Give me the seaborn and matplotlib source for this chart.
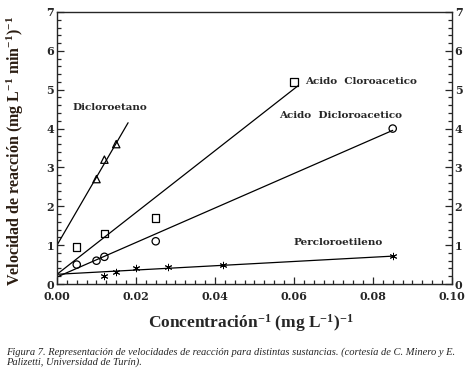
import numpy as np
import pandas as pd
import seaborn as sns
import matplotlib
import matplotlib.pyplot as plt
from matplotlib.ticker import MultipleLocator

# datos
dcE_x = [0.010, 0.012, 0.015]
dcE_y = [2.7, 3.2, 3.6]
aca_x = [0.005, 0.012, 0.025, 0.060]
aca_y = [0.95, 1.3, 1.7, 5.2]
adca_x = [0.005, 0.010, 0.012, 0.025, 0.085]
adca_y = [0.5, 0.6, 0.7, 1.1, 4.0]
pce_x = [0.012, 0.015, 0.020, 0.028, 0.042, 0.085]
pce_y = [0.2, 0.3, 0.4, 0.45, 0.5, 0.72]

names = ["Dicloroetano", "Acido Cloroacetico", "Acido Dicloroacetico", "Percloroetileno"]
# rectas de ajuste: ordenada, pendiente, x final
fit_b = [1.0, 0.25, 0.18, 0.25]
fit_m = [175.0, 79.5, 44.4, 5.5]
fit_xend = [0.018, 0.061, 0.085, 0.085]

sns.set_style("ticks")
plt.rcParams['font.family'] = ['DejaVu Serif']
plt.rcParams['mathtext.fontset'] = 'custom'
plt.rcParams['mathtext.default'] = 'bf'
plt.rcParams['mathtext.bf'] = 'Liberation Serif:bold'
plt.rcParams['mathtext.rm'] = 'Liberation Serif:bold'

pts = pd.concat([
    pd.DataFrame({"x": dcE_x, "y": dcE_y, "s": names[0]}),
    pd.DataFrame({"x": aca_x, "y": aca_y, "s": names[1]}),
    pd.DataFrame({"x": adca_x, "y": adca_y, "s": names[2]}),
    pd.DataFrame({"x": pce_x, "y": pce_y, "s": names[3]}),
])

fig = plt.figure(figsize=(4.73, 3.70), dpi=100)
ax = fig.add_axes([0.1205, 0.2324, 0.835, 0.7352])

for i, nm in enumerate(names):
    xs = np.array([0.0, fit_xend[i]])
    sns.lineplot(x=xs, y=fit_b[i] + fit_m[i] * xs, color="black", lw=0.9, ax=ax)

marks = {names[0]: "^", names[1]: "s", names[2]: "o", names[3]: (6, 2, 0)}
for nm in names:
    d = pts[pts.s == nm]
    star = nm == names[3]
    sns.scatterplot(data=d, x="x", y="y", marker=marks[nm], s=28 if not star else 22,
                    facecolor="none" if not star else "black",
                    edgecolor="black", linewidth=0.9 if not star else 0.7, ax=ax, zorder=3)

ax.set_xlim(0, 0.10)
ax.set_ylim(0, 7)
ax.xaxis.set_major_locator(MultipleLocator(0.02))
ax.xaxis.set_minor_locator(MultipleLocator(0.0025))
ax.yaxis.set_major_locator(MultipleLocator(1))
ax.yaxis.set_minor_locator(MultipleLocator(0.2))
ax.xaxis.set_major_formatter(matplotlib.ticker.FormatStrFormatter("%.2f"))
ax.tick_params(which="both", direction="in", right=True, labelright=True,
               labelsize=8, width=0.9)
ax.tick_params(axis="x", pad=5)
ax.tick_params(axis="y", pad=2)
ax.tick_params(which="major", length=5)
ax.tick_params(which="minor", length=3)
for lab in ax.get_xticklabels() + ax.get_yticklabels():
    lab.set_fontweight("bold")
for sp in ax.spines.values():
    sp.set_linewidth(1.0)
    sp.set_visible(True)

ax.set_xlabel("")
ax.set_ylabel("")
ax.text(0.004, 4.47, "Dicloroetano", fontsize=7.5, fontweight="bold")
ax.text(0.0628, 5.2, "Acido  Cloroacetico", fontsize=7.5, fontweight="bold", va="center")
ax.text(0.0562, 4.27, "Acido  Dicloroacetico", fontsize=7.5, fontweight="bold")
ax.text(0.0598, 1.0, "Percloroetileno", fontsize=7.5, fontweight="bold")

fig.text(0.53, 0.126, "Concentración$^{-1}$ (mg L$^{-1}$)$^{-1}$", ha="center", va="center",
         fontsize=12.5, fontweight="bold", family="Liberation Serif")
fig.text(0.033, 0.592, "Velocidad de reacción (mg L$^{-1}$ min$^{-1}$)$^{-1}$", ha="center",
         va="center", rotation=90, fontsize=11.5, fontweight="bold",
         family="Liberation Serif", color="#2b1d12")
fig.text(0.012, 0.035, "Figura 7. Representación de velocidades de reacción para distintas sustancias. (cortesía de C. Minero y E.\nPalizetti, Universidad de Turín).",
         fontsize=7.6, style="italic", family="Liberation Serif", linespacing=1.1, va="center")

fig.savefig("out.png", dpi=100)
